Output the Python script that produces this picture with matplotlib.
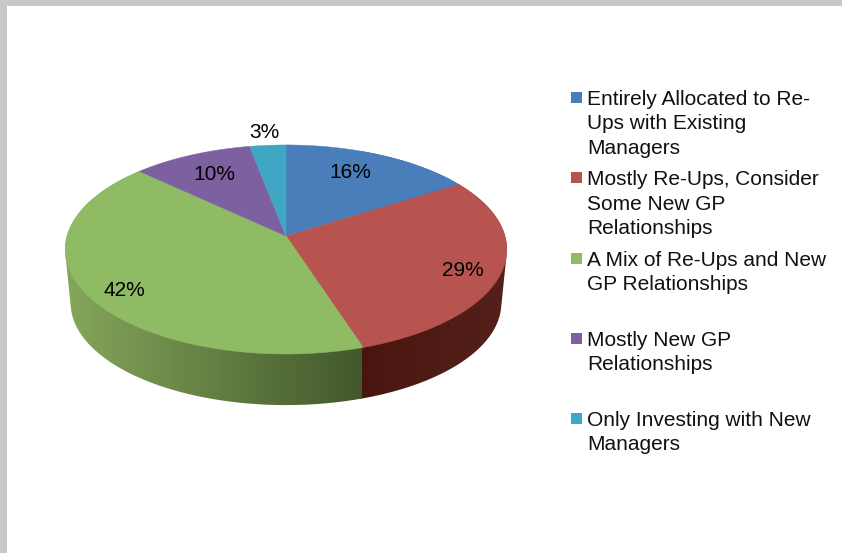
import numpy as np
import matplotlib
matplotlib.use("Agg")
import matplotlib.pyplot as plt
from matplotlib.colors import to_rgb
from matplotlib.patches import Polygon, Rectangle

categories = [
    "Entirely Allocated to Re-\nUps with Existing\nManagers",
    "Mostly Re-Ups, Consider\nSome New GP\nRelationships",
    "A Mix of Re-Ups and New\nGP Relationships",
    "Mostly New GP\nRelationships",
    "Only Investing with New\nManagers",
]
values = [16, 29, 42, 10, 3]
colors = ["#4a7ebb", "#b85450", "#8fbb65", "#7d60a0", "#3fa6c4"]
wall_left = ["#3a5f8c", "#48160f", "#86a85c", "#5c4678", "#2f7c92"]
wall_right = ["#3a5f8c", "#55201b", "#43582b", "#5c4678", "#2f7c92"]

label_xy = [(350, 172), (463, 270), (124, 290), (214, 174), (264, 132)]

plt.rcParams["font.family"] = ["Liberation Sans", "DejaVu Sans"]

fig = plt.figure(figsize=(8.42, 5.53), dpi=100)
ax = fig.add_axes([0, 0, 1, 1])

# grey page border, top and left only
ax.add_patch(Rectangle((0, 0), 842, 6, color="#c8c8c8", lw=0))
ax.add_patch(Rectangle((0, 0), 7, 553, color="#c8c8c8", lw=0))


def project(theta, apex_y, scale=1.0):
    # circle seen in perspective, the near edge is bigger than the far edge
    k = 0.129
    u = np.sin(theta)
    v = np.cos(theta)
    w = 1 + k * v
    return 286 + scale * 219 * u / w, apex_y - scale * 102.8 * v / w


def half_hull(pts):
    out = []
    for p in pts:
        while len(out) > 1:
            a, b = out[-2], out[-1]
            if (b[0] - a[0]) * (p[1] - a[1]) - (b[1] - a[1]) * (p[0] - a[0]) > 0:
                break
            out.pop()
        out.append(p)
    return out[:-1]


def hull(xs, ys):
    pts = sorted(zip(xs, ys))
    return half_hull(pts) + half_hull(pts[::-1])


edges = np.radians(np.cumsum([0] + values) * 3.6)

# side wall, only the front part shows once the top is drawn over it
for i in range(len(values)):
    th = np.linspace(edges[i] - 0.006, edges[i + 1] + 0.006, 200)
    x1, y1 = project(th, 236)
    x2, y2 = project(th, 290, 0.975)
    wall = Polygon(hull(np.r_[x1, x2], np.r_[y1, y2]), closed=True, transform=ax.transData, lw=0)
    ax.add_patch(wall)
    wall.set_visible(False)
    xa, xb = (60, 362) if i == 2 else (360, 510)
    shade = np.linspace(to_rgb(wall_left[i]), to_rgb(wall_right[i]), 256)[None, :, :]
    im = ax.imshow(shade, extent=(xa, xb, 553, 0), aspect="auto", zorder=2, interpolation="bilinear")
    im.set_clip_path(wall)

# top face
for i in range(len(values)):
    th = np.linspace(edges[i], edges[i + 1], 120)
    x, y = project(th, 236)
    ax.fill(np.r_[286, x], np.r_[236, y], color=colors[i], lw=0.3, zorder=3)

for v, (lx, ly) in zip(values, label_xy):
    ax.text(lx, ly, f"{v}%", fontsize=15, color="black", ha="center", va="center", zorder=4)

# legend, entries sit on an even step
for i, (name, c) in enumerate(zip(categories, colors)):
    y = 98 + 80.25 * i
    ax.add_patch(Rectangle((571, y - 6), 11, 11, color=c, lw=0))
    ax.text(587, y - 8, name, fontsize=15, color="#111111", ha="left", va="top", linespacing=1.35)

ax.set_xlim(0, 842)
ax.set_ylim(553, 0)
ax.axis("off")

fig.savefig("out.png", dpi=100)
